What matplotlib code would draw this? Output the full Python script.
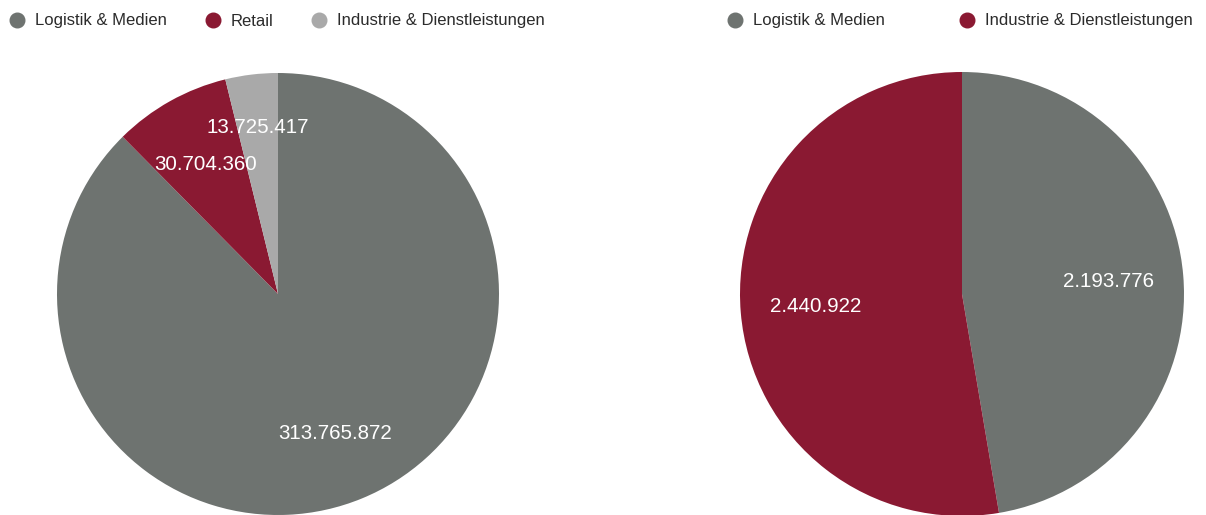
import matplotlib.pyplot as plt

plt.rcParams['font.family'] = ['Liberation Sans', 'DejaVu Sans']

GRAY = '#6e7370'
RED = '#8a1932'
LIGHT = '#a9a9a9'

left_labels = ['Logistik & Medien', 'Retail', 'Industrie & Dienstleistungen']
left_values = [313765872, 30704360, 13725417]
left_colors = [GRAY, RED, LIGHT]

right_labels = ['Logistik & Medien', 'Industrie & Dienstleistungen']
right_values = [2193776, 2440922]
right_colors = [GRAY, RED]


def fmt(v):
    return f'{v:,}'.replace(',', '.')


def draw_pie(ax, values, colors, dists):
    wedges, texts = ax.pie(values, colors=colors, startangle=90, counterclock=False,
                           labels=[fmt(v) for v in values], labeldistance=0.66,
                           textprops=dict(color='white', fontsize=14.8, ha='center', va='center'),
                           wedgeprops=dict(linewidth=0))
    # push some labels further out, like the original
    for t, d in zip(texts, dists):
        x, y = t.get_position()
        t.set_position((x * d / 0.66, y * d / 0.66))
    ax.set_xlim(-1, 1)
    ax.set_ylim(-1, 1)
    ax.set_aspect('equal')


def draw_legend(fig, labels, colors, xs):
    y = 1 - 20 / 515
    base = 1 - 25.5 / 515
    for lab, col, x in zip(labels, colors, xs):
        fig.lines.append(plt.Line2D([x / 1206], [y], marker='o', markersize=10.5,
                                    color=col, linestyle='none', transform=fig.transFigure))
        fig.text((x + 18) / 1206, base, lab, fontsize=12, color='#2b2b2b',
                 va='baseline', ha='left')


fig = plt.figure(figsize=(12.06, 5.15), dpi=100)

ax1 = fig.add_axes([57 / 1206, 0, 442 / 1206, 442 / 515])
ax1.axis('off')
draw_pie(ax1, left_values, left_colors, [0.68, 0.67, 0.76])

ax2 = fig.add_axes([740 / 1206, -1 / 515, 444 / 1206, 444 / 515])
ax2.axis('off')
draw_pie(ax2, right_values, right_colors, [0.66, 0.66])

draw_legend(fig, left_labels, left_colors, [17, 213, 319])
draw_legend(fig, right_labels, right_colors, [735, 967])

fig.savefig('out.png', dpi=100)
